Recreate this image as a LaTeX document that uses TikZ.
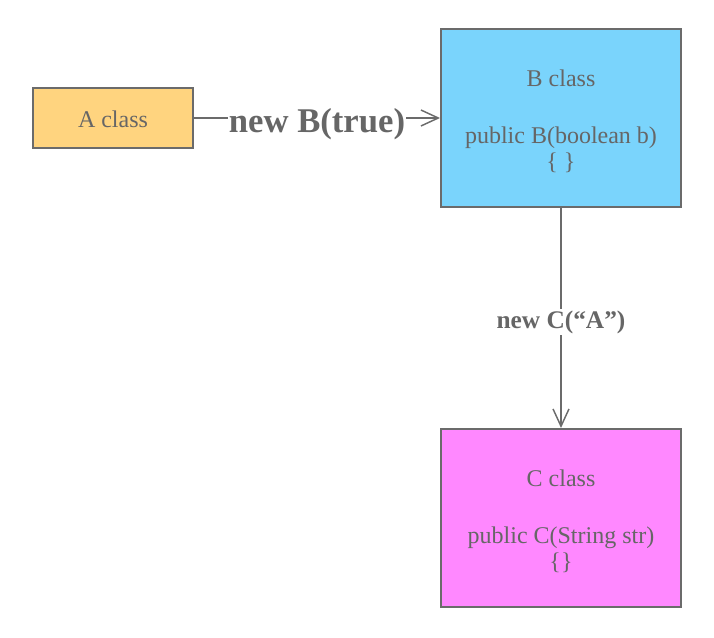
\documentclass[tikz,border=0pt]{standalone}
\usepackage{fontspec}
\setmainfont{Liberation Serif}
\usetikzlibrary{arrows.meta}
\definecolor{ink}{HTML}{666666}
\definecolor{edge}{HTML}{6B6B6B}
\definecolor{afill}{HTML}{FFD47F}
\definecolor{bfill}{HTML}{7AD4FC}
\definecolor{cfill}{HTML}{FF88FF}
\tikzset{
  classbox/.style={draw=edge, line width=1.5pt, inner sep=0pt},
  classtext/.style={text=ink, align=center, inner sep=0pt, yshift=-2.5pt,
    font=\fontsize{18}{19.5}\selectfont},
  conn/.style={draw=edge, line width=1.1pt, -{Straight Barb[length=13pt,width=12pt,line width=1.1pt]}},
  lbl/.style={fill=white, text=ink, inner sep=1pt}
}
\begin{document}
\begin{tikzpicture}[x=0.75pt,y=-0.75pt]
\useasboundingbox (0,0) rectangle (714,638);
\node[classbox, fill=afill, minimum width=120pt, minimum height=45pt,
  label={[classtext, yshift=1.5pt]center:A class}] (A) at (113,118) {};
\node[classbox, fill=bfill, minimum width=180pt, minimum height=133.5pt,
  label={[classtext]center:{B class\\[23pt] public B(boolean b)\\\{ \}}}] (B) at (561,118) {};
\node[classbox, fill=cfill, minimum width=180pt, minimum height=133.5pt,
  label={[classtext]center:{C class\\[23pt] public C(String str)\\\{\}}}] (C) at (561,518) {};
\draw[conn] (A) -- node[lbl, yshift=-4.5pt, font=\fontsize{26}{28}\selectfont\bfseries] {new B(true)} (B);
\draw[conn] (B) -- node[lbl, yshift=-3pt, font=\fontsize{19}{21}\selectfont\bfseries] {new C(“A”)} (C);
\end{tikzpicture}
\end{document}
